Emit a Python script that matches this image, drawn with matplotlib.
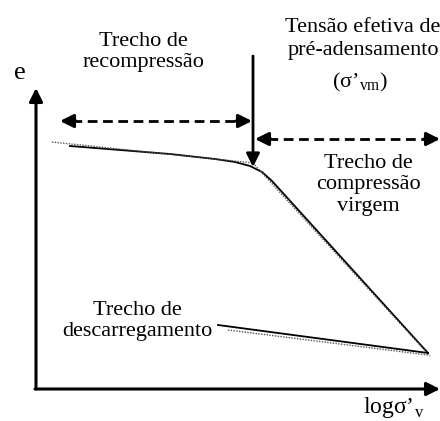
"""Curva e x log(sigma'v) esquemática: recompressão, compressão virgem, descarregamento."""
import matplotlib.pyplot as plt

# curva de ensaio (coordenadas do esquema, y cresce para baixo)
curva_x = [70, 120, 170, 215, 235, 250, 262, 272, 282, 428]
curva_y = [146, 150, 154, 159, 162, 166, 172, 181, 192, 353]
# tangentes pontilhadas
recomp_x = [52, 253]
recomp_y = [142, 163]
virgem_x = [253, 430]
virgem_y = [163, 356]
# descarregamento
desc_x = [218, 428]
desc_y = [325, 353]
desc_tan_x = [228, 428]
desc_tan_y = [330, 355]
# origem dos eixos e ponto de pré-adensamento
origem = (36, 389)
x_pre = 253

plt.rcParams.update({
    "font.family": ["Liberation Serif", "DejaVu Serif"], "font.size": 16,
    "mathtext.fontset": "custom", "mathtext.rm": "Liberation Serif",
})

fig = plt.figure(figsize=(4.4, 4.21), dpi=100)
ax = fig.add_axes([0, 0, 1, 1])
ax.set_xlim(0, 440)
ax.set_ylim(421, 0)
ax.axis("off")

seta = dict(arrowstyle="-|>", color="black", lw=2.2, mutation_scale=20,
            shrinkA=0, shrinkB=0)

# eixos
ax.annotate("", xy=(origem[0], 88), xytext=origem, arrowprops=seta)
ax.annotate("", xy=(440, origem[1]), xytext=(origem[0] - 1, origem[1]), arrowprops=seta)
ax.text(20, 73, "e", fontsize=19, ha="center", va="center")
ax.text(394, 407, "logσ’$_\\mathregular{v}$", fontsize=17, ha="center", va="center")

# curva e tangentes
ax.plot(curva_x, curva_y, color="black", lw=1.3)
ax.plot(recomp_x, recomp_y, color="#555", lw=1.0, ls=(0, (1, 1)))
ax.plot(virgem_x, virgem_y, color="#555", lw=1.0, ls=(0, (1, 1)))
ax.plot(desc_x, desc_y, color="black", lw=1.3)
ax.plot(desc_tan_x, desc_tan_y, color="#555", lw=1.0, ls=(0, (1, 1)))

# tensão de pré-adensamento
ax.annotate("", xy=(x_pre, 167), xytext=(x_pre, 56), arrowprops=dict(seta, lw=2.0))

# trechos (setas tracejadas)
tr = dict(color="black", lw=2.0, ls=(0, (3.5, 2)))
ax.plot([72, 240], [121, 121], **tr)
ax.annotate("", xy=(60, 121), xytext=(76, 121), arrowprops=seta)
ax.annotate("", xy=(252, 121), xytext=(236, 121), arrowprops=seta)
ax.plot([268, 426], [139, 139], **tr)
ax.annotate("", xy=(255, 139), xytext=(271, 139), arrowprops=seta)
ax.annotate("", xy=(440, 139), xytext=(424, 139), arrowprops=seta)

# textos
kw = dict(ha="center", va="center", linespacing=1.2)
ax.text(143, 52, "Trecho de\nrecompressão", **kw)
ax.text(363, 27, "Tensão efetiva de", **kw)
ax.text(363, 50, "pré-adensamento", **kw)
ax.text(360, 82, "(σ’$_\\mathregular{vm}$)", **kw)
ax.text(368, 185, "Trecho de\ncompressão\nvirgem", **kw)
ax.text(137, 321, "Trecho de\ndescarregamento", **kw)

fig.savefig("out.png", dpi=100, facecolor="white")
